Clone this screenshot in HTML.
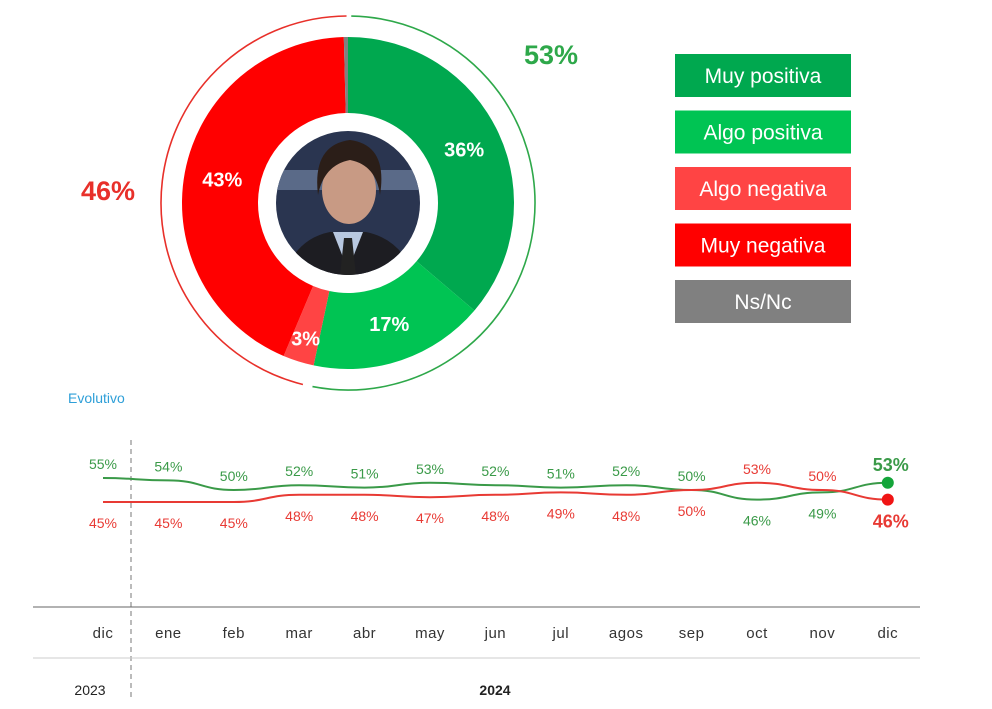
<!DOCTYPE html>
<html><head><meta charset="utf-8"><style>
body{margin:0;background:#fff;width:992px;height:709px;overflow:hidden;font-family:"Liberation Sans",sans-serif}
svg{display:block}
</style></head><body>
<svg id="c" width="992" height="709" xmlns="http://www.w3.org/2000/svg">
<defs><clipPath id="ph"><circle cx="348" cy="203" r="72"/></clipPath></defs>
<g id="donut"></g>
<g clip-path="url(#ph)">
<rect x="270" y="125" width="160" height="160" fill="#2a3550"/>
<rect x="270" y="170" width="160" height="20" fill="#5a6a88"/>
<path d="M280 290 Q290 240 330 232 L366 232 Q406 240 420 290Z" fill="#1d1d22"/>
<path d="M333 232 L348 270 L363 232Z" fill="#b8c8e0"/>
<path d="M344 238 L352 238 L356 275 L340 275Z" fill="#222"/>
<ellipse cx="349" cy="190" rx="27" ry="34" fill="#c89a84"/>
<path d="M318 195 Q312 145 350 140 Q388 145 380 195 Q376 165 350 160 Q324 165 318 195Z" fill="#2b1e18"/>
</g>
<text x="108" y="200" font-size="27" font-weight="bold" fill="#e8302a" text-anchor="middle">46%</text>
<text x="551" y="64" font-size="27" font-weight="bold" fill="#2ea84a" text-anchor="middle">53%</text>
<g id="legend"></g>
<text x="68" y="403" font-size="14" fill="#2e9fd8">Evolutivo</text>
<line x1="131" y1="440" x2="131" y2="697" stroke="#777" stroke-dasharray="5,4"/>
<line x1="33" y1="607" x2="920" y2="607" stroke="#666"/>
<line x1="33" y1="658" x2="920" y2="658" stroke="#ccc"/>
<text x="90" y="695" font-size="14" fill="#222" text-anchor="middle">2023</text>
<text x="495" y="695" font-size="14" font-weight="bold" fill="#222" text-anchor="middle">2024</text>
<g id="lines"></g>
</svg>
<script>
const donutLabels=["Muy positiva","Algo positiva","Algo negativa","Muy negativa","Ns/Nc"];
const donutValues=[36,17,3,43,0.4];
const donutColors=["#00a84f","#00c453","#ff4444","#ff0000","#808080"];
const months=["dic","ene","feb","mar","abr","may","jun","jul","agos","sep","oct","nov","dic"];
const positive=[55,54,50,52,51,53,52,51,52,50,46,49,53];
const negative=[45,45,45,48,48,47,48,49,48,50,53,50,46];
const posLabelAbove=[1,1,1,1,1,1,1,1,1,1,0,0,1];
const negLabelAbove=[0,0,0,0,0,0,0,0,0,0,1,1,0];
const NS="http://www.w3.org/2000/svg";
function mk(t,a,p){const e=document.createElementNS(NS,t);for(const k in a)e.setAttribute(k,a[k]);p.appendChild(e);return e;}
const cx=348,cy=203,R=166,r=90;
function pt(rad,ang){const a=(ang-90)*Math.PI/180;return [cx+rad*Math.cos(a),cy+rad*Math.sin(a)];}
const dg=document.getElementById('donut');
const tot=donutValues.reduce((a,b)=>a+b,0);
let acc=0;
donutValues.forEach((v,i)=>{
 const a0=acc/tot*360,a1=(acc+v)/tot*360;acc+=v;
 const [x0,y0]=pt(R,a0),[x1,y1]=pt(R,a1),[x2,y2]=pt(r,a1),[x3,y3]=pt(r,a0);
 const lg=(a1-a0)>180?1:0;
 const p=mk('path',{d:`M${x0} ${y0}A${R} ${R} 0 ${lg} 1 ${x1} ${y1}L${x2} ${y2}A${r} ${r} 0 ${lg} 0 ${x3} ${y3}Z`,fill:donutColors[i]},dg);
 
 
 if(v>=3){const m=(a0+a1)/2;const [tx,ty]=pt(v<5?142:128,m);
  const t=mk('text',{x:tx,y:ty+7,'font-size':20,'font-weight':'bold',fill:'#fff','text-anchor':'middle'},dg);t.textContent=v+'%';
  
  }
});
const posSum=donutValues[0]+donutValues[1],negSum=donutValues[2]+donutValues[3];
const Ro=187;
function arc(a0,a1,col,name){const [x0,y0]=pt(Ro,a0),[x1,y1]=pt(Ro,a1);const e=mk('path',{d:`M${x0} ${y0}A${Ro} ${Ro} 0 ${(a1-a0)>180?1:0} 1 ${x1} ${y1}`,fill:'none',stroke:col,'stroke-width':1.6},dg);
 
 }
arc(1,posSum/tot*360-1,'#2ea84a','positive-arc');
arc(posSum/tot*360+2,posSum/tot*360+negSum/tot*360+1,'#e8302a','negative-arc');
const lgG=document.getElementById('legend');
donutLabels.forEach((l,i)=>{
 const y=54+i*56.5;
 const b=mk('rect',{x:675,y:y,width:176,height:43,fill:donutColors[i]},lgG);
 
 
 const t=mk('text',{x:763,y:y+29,'font-size':21,fill:'#fff','text-anchor':'middle'},lgG);t.textContent=l;
 
 
});
const lg2=document.getElementById('lines');
const xS=i=>103+i*65.4, yS=v=>478+(55-v)*2.4;
function smooth(vals){let d=`M${xS(0)} ${yS(vals[0])}`;for(let i=1;i<vals.length;i++){const x0=xS(i-1),x1=xS(i),y0=yS(vals[i-1]),y1=yS(vals[i]);const mx=(x0+x1)/2;d+=`C${mx} ${y0} ${mx} ${y1} ${x1} ${y1}`;}return d;}
const gl=mk('path',{d:smooth(positive),fill:'none',stroke:'#3a9a48','stroke-width':2},lg2);


const rl=mk('path',{d:smooth(negative),fill:'none',stroke:'#e83a34','stroke-width':2},lg2);


const last=months.length-1;
const d1=mk('circle',{cx:xS(last),cy:yS(positive[last]),r:6,fill:'#14a53a'},lg2);


const d2=mk('circle',{cx:xS(last),cy:yS(negative[last]),r:6,fill:'#f01414'},lg2);


function lab(vals,above,col,name){vals.forEach((v,i)=>{const isLast=i===last;
 const y=above[i]?yS(v)-(isLast?12:9):yS(v)+(isLast?28:26);
 const t=mk('text',{x:xS(i)+(isLast?3:0),y:y,'font-size':isLast?18:14,'font-weight':isLast?'bold':'normal',fill:col,'text-anchor':'middle'},lg2);t.textContent=v+'%';
 
 });}
lab(positive,posLabelAbove,'#3a9a48','positive');
lab(negative,negLabelAbove,'#e83a34','negative');
months.forEach((m,i)=>{const t=mk('text',{x:xS(i),y:638,'font-size':15,fill:'#333','text-anchor':'middle','letter-spacing':'0.5'},lg2);t.textContent=m;
 
 });
</script>
</body></html>
